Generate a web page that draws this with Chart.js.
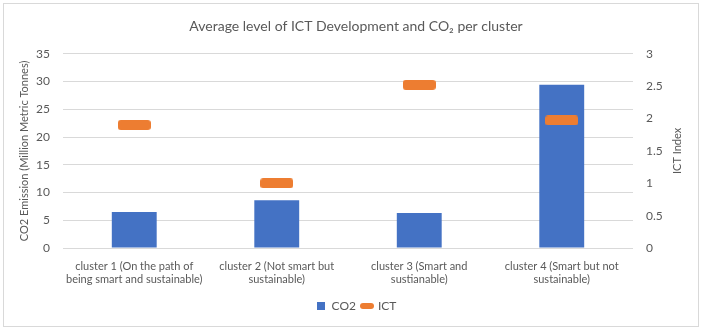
<!DOCTYPE html>
<html><head><meta charset="utf-8">
<script src="https://cdn.jsdelivr.net/npm/chart.js@4/dist/chart.umd.min.js"></script>
<style>
html,body{margin:0;padding:0;background:#fff;}
#wrap{position:absolute;left:0;top:0;width:703px;height:331px;}
#frame{position:absolute;left:3px;top:3px;width:696px;height:324px;border:1px solid #d9d9d9;box-sizing:border-box;pointer-events:none;}
</style></head>
<body>
<div id="wrap"><canvas id="c" width="703" height="331"></canvas><div id="frame"></div></div>
<script>
const categories = [
  ["cluster 1 (On the path of","being smart and sustainable)"],
  ["cluster 2 (Not smart but","sustainable)"],
  ["cluster 3 (Smart and","sustianable)"],
  ["cluster 4 (Smart but not","sustainable)"]
];
const co2Values = [6.5, 8.6, 6.3, 29.4];
const ictValues = [1.9, 1.0, 2.52, 1.97];
const leftTicks = [0,5,10,15,20,25,30,35];
const rightTicks = [0,0.5,1,1.5,2,2.5,3];

const BLUE = '#4472C4', ORANGE = '#ED7D31', TXT = '#595959', GRID = '#d9d9d9';
const FONT = 'Lato, "Open Sans", sans-serif';

function roundedMarker(w, h, r) {
  const cv = document.createElement('canvas');
  cv.width = w; cv.height = h;
  const g = cv.getContext('2d');
  g.fillStyle = ORANGE;
  g.beginPath();
  g.roundRect(0, 0, w, h, r);
  g.fill();
  return cv;
}
const ictMarker = roundedMarker(33, 10, 3);
const ictLegend = roundedMarker(14, 6, 3);
const co2Legend = (function(){
  const cv = document.createElement('canvas'); cv.width = 8; cv.height = 8;
  const g = cv.getContext('2d'); g.fillStyle = BLUE; g.fillRect(0,0,8,8); return cv;
})();

const rightTitle = {
  id: 'rightTitle',
  afterDraw(chart) {
    const ca = chart.chartArea, g = chart.ctx;
    g.save();
    g.translate(677, (ca.top + ca.bottom) / 2);
    g.rotate(-Math.PI / 2);
    g.fillStyle = TXT;
    g.font = '11px ' + FONT;
    g.textAlign = 'center';
    g.textBaseline = 'middle';
    g.fillText('ICT Index', 0, 0);
    g.restore();
  }
};

new Chart(document.getElementById('c'), {
  data: {
    labels: categories,
    datasets: [
      { type: 'line', label: 'ICT', data: ictValues, yAxisID: 'y1', showLine: false,
        pointStyle: ictMarker, pointRadius: 10, pointHoverRadius: 10,
        backgroundColor: ORANGE, borderColor: ORANGE, order: 0 },
      { type: 'bar', label: 'CO2', data: co2Values, yAxisID: 'y',
        backgroundColor: BLUE, barPercentage: 0.315, categoryPercentage: 1, order: 1 }
    ]
  },
  options: {
    responsive: false, animation: false, devicePixelRatio: 1,
    layout: { padding: { left: 17, right: 8, top: 0, bottom: 9 } },
    plugins: {
      tooltip: { enabled: false },
      title: { display: true, text: 'Average level of ICT Development and CO\u2082 per cluster',
        color: TXT, font: { family: FONT, size: 14, weight: 'normal' }, padding: { top: 18, bottom: 19 } },
      legend: { position: 'bottom',
        labels: { color: TXT, font: { family: FONT, size: 12 }, usePointStyle: true, boxWidth: 10, padding: 6,
          generateLabels: () => [
            { text: 'CO2', pointStyle: co2Legend, fillStyle: BLUE, strokeStyle: BLUE, lineWidth: 0, fontColor: TXT, datasetIndex: 1 },
            { text: 'ICT', pointStyle: ictLegend, fillStyle: ORANGE, strokeStyle: ORANGE, lineWidth: 0, fontColor: TXT, datasetIndex: 0 }
          ] } }
    },
    scales: {
      x: { offset: true,
        grid: { display: false }, border: { display: false },
        ticks: { color: TXT, font: { family: FONT, size: 11 }, maxRotation: 0, autoSkip: false, padding: 4 },
        afterFit: s => { s.height = 46; } },
      y: { position: 'left', min: 0, max: 35,
        afterBuildTicks: s => { s.ticks = leftTicks.map(v => ({ value: v })); },
        grid: { color: GRID, drawTicks: false }, border: { display: false },
        ticks: { color: TXT, font: { family: FONT, size: 12 }, padding: 13 },
        title: { display: true, text: 'CO2 Emission (Million Metric Tonnes)', color: TXT, font: { family: FONT, size: 11 }, padding: { top: 1, bottom: 1 } },
        afterFit: s => { s.width = 46; } },
      y1: { position: 'right', min: 0, max: 3,
        afterBuildTicks: s => { s.ticks = rightTicks.map(v => ({ value: v })); },
        grid: { display: false, drawTicks: false }, border: { display: false },
        ticks: { color: TXT, font: { family: FONT, size: 12 }, padding: 13, callback: v => String(v) },
        afterFit: s => { s.width = 62; } }
    }
  },
  plugins: [rightTitle]
});
</script>
</body></html>
